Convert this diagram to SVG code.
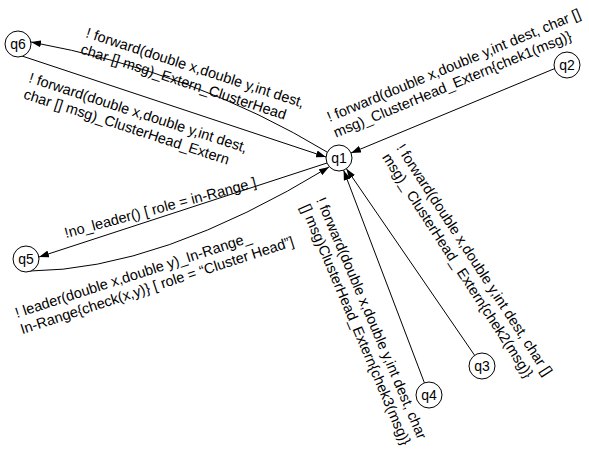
<svg xmlns="http://www.w3.org/2000/svg" width="589" height="459" viewBox="0 0 589 459">
<defs>
<marker id="arrow" viewBox="0 0 10 7" refX="10" refY="3.5" markerWidth="10" markerHeight="7" markerUnits="userSpaceOnUse" orient="auto"><path d="M0,0 L10,3.5 L0,7 z" fill="#000"/></marker>
</defs>
<style>
.node circle{fill:#fff;stroke:#000;stroke-width:1}
.node text{font-family:"Liberation Sans",Arial,sans-serif;font-size:14px;text-anchor:middle;fill:#000}
.edge{fill:none;stroke:#000;stroke-width:1;marker-end:url(#arrow)}
.lbl{font-family:"Liberation Sans",Arial,sans-serif;font-size:14.5px;fill:#000}
</style>
<rect width="589" height="459" fill="#fff"/>
<g id="connectors">
<path class="edge" d="M327,152 Q195,72 31,42"/>
<path class="edge" d="M22,56 L326,157"/>
<path class="edge" d="M556,68 L351,153"/>
<path class="edge" d="M327,163 L39,257"/>
<path class="edge" d="M30,271 Q160,270 329,167"/>
<path class="edge" d="M474.6,355.3 L346.4,168.7"/>
<path class="edge" d="M424.4,382.8 L343.6,170.2"/>
</g>
<g id="labels">
<text class="lbl" transform="translate(85,37) rotate(18)"><tspan x="0" y="0">! forward(double x,double y,int dest,</tspan><tspan x="0" y="17">char [] msg)_Extern_ClusterHead</tspan></text>
<text class="lbl" transform="translate(28,82) rotate(18)"><tspan x="0" y="0">! forward(double x,double y,int dest,</tspan><tspan x="0" y="17">char [] msg)_ClusterHead_Extern</tspan></text>
<text class="lbl" transform="translate(329.5,122) rotate(-22.5)"><tspan x="0" y="0">! forward(double x,double y,int dest, char []</tspan><tspan x="0" y="17">msg)_ClusterHead_Extern{chek1(msg)}</tspan></text>
<text class="lbl" transform="translate(66,238) rotate(-15)">!no_leader() [ role = in-Range ]</text>
<text class="lbl" transform="translate(17,318) rotate(-18)"><tspan x="0" y="0">! leader(double x,double y)_In-Range_</tspan><tspan x="0" y="17">In-Range{check(x,y)} [ role = “Cluster Head”]</tspan></text>
<text class="lbl" transform="translate(396,148) rotate(57)"><tspan x="0" y="0">! forward(double x,double y,int dest, char []</tspan><tspan x="0" y="17">msg)_ ClusterHead_ Extern{chek2(msg)}</tspan></text>
<text class="lbl" transform="translate(316,200) rotate(67)"><tspan x="0" y="0">! forward(double x,double y,int dest, char</tspan><tspan x="0" y="17">[] msg)ClusterHead_Extern{chek3(msg)}</tspan></text>
</g>
<g id="q1" class="node"><circle cx="339" cy="158" r="13"/><text x="339" y="163">q1</text></g>
<g id="q2" class="node"><circle cx="567" cy="65" r="13"/><text x="567" y="70">q2</text></g>
<g id="q3" class="node"><circle cx="482" cy="366" r="13"/><text x="482" y="371">q3</text></g>
<g id="q4" class="node"><circle cx="429" cy="395" r="13"/><text x="429" y="400">q4</text></g>
<g id="q5" class="node"><circle cx="26" cy="259" r="13"/><text x="26" y="264">q5</text></g>
<g id="q6" class="node"><circle cx="18" cy="44" r="13"/><text x="18" y="49">q6</text></g>
</svg>
